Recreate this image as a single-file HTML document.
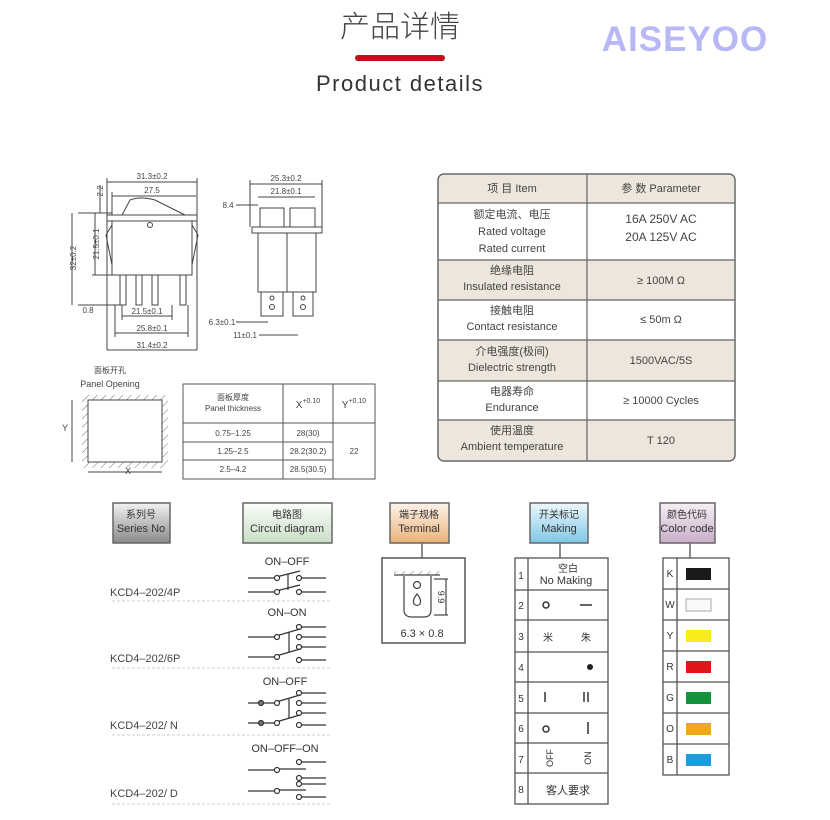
<!DOCTYPE html>
<html><head><meta charset="utf-8"><style>
html,body{margin:0;padding:0;background:#fff;}
svg{display:block;}
text{font-family:"Liberation Sans","Noto Sans CJK SC",sans-serif;}
</style></head><body>
<svg width="830" height="820" viewBox="0 0 830 820" xmlns="http://www.w3.org/2000/svg" fill="#333">
<defs>
<linearGradient id="gGray" x1="0" y1="0" x2="0" y2="1"><stop offset="0" stop-color="#f2f2f2"/><stop offset="1" stop-color="#8a8a8a"/></linearGradient>
<linearGradient id="gGreen" x1="0" y1="0" x2="0" y2="1"><stop offset="0" stop-color="#fbfdf9"/><stop offset="1" stop-color="#c9dfc6"/></linearGradient>
<linearGradient id="gOrange" x1="0" y1="0" x2="0" y2="1"><stop offset="0" stop-color="#fdf4ea"/><stop offset="1" stop-color="#eab27a"/></linearGradient>
<linearGradient id="gBlue" x1="0" y1="0" x2="0" y2="1"><stop offset="0" stop-color="#eef8fc"/><stop offset="1" stop-color="#7fc7e6"/></linearGradient>
<linearGradient id="gPurple" x1="0" y1="0" x2="0" y2="1"><stop offset="0" stop-color="#f6f0f6"/><stop offset="1" stop-color="#c9aec8"/></linearGradient>
<pattern id="hatch" width="6" height="6" patternUnits="userSpaceOnUse" patternTransform="rotate(45)"><line x1="0" y1="0" x2="0" y2="6" stroke="#777" stroke-width="1"/></pattern>
</defs>

<!-- Header -->
<text x="400" y="37" font-size="30" text-anchor="middle" fill="#444" style="font-family:'Noto Sans CJK SC',sans-serif;font-weight:300">产品详情</text>
<rect x="355" y="55" width="90" height="6" rx="3" fill="#c0101c"/>
<text x="400" y="91" font-size="22" text-anchor="middle" letter-spacing="1.5" fill="#333">Product details</text>
<text x="685" y="51" font-size="35" font-weight="bold" text-anchor="middle" style="fill:#b8b8f6" letter-spacing="1">AISEYOO</text>

<!-- Front view drawing -->
<g stroke="#444" stroke-width="1" fill="none">
<line x1="107" y1="182" x2="197" y2="182"/><line x1="107" y1="178" x2="107" y2="350"/><line x1="197" y1="178" x2="197" y2="350"/>
<line x1="112" y1="196" x2="196" y2="196"/><line x1="112" y1="192" x2="112" y2="215"/>
<path d="M122 215 L130 200 Q140 196 155 200 L185 215"/>
<rect x="107" y="215" width="90" height="6"/>
<path d="M112 221 L112 275 L192 275 L192 221"/>
<path d="M112 225 L106 235 L112 265 M192 225 L198 235 L192 265"/>
<circle cx="150" cy="225" r="2.5"/>
<rect x="120" y="275" width="6" height="30"/><rect x="136" y="275" width="6" height="30"/><rect x="152" y="275" width="6" height="30"/><rect x="180" y="275" width="6" height="30"/>
<line x1="78" y1="213" x2="112" y2="213"/><line x1="78" y1="305" x2="120" y2="305"/><line x1="72" y1="213" x2="72" y2="305"/>
<line x1="95" y1="213" x2="95" y2="275"/><line x1="92" y1="275" x2="112" y2="275"/>
<line x1="100" y1="185" x2="100" y2="213"/>
<line x1="122" y1="316" x2="172" y2="316"/><line x1="115" y1="333" x2="188" y2="333"/><line x1="107" y1="350" x2="197" y2="350"/>
<line x1="122" y1="305" x2="122" y2="320"/><line x1="172" y1="305" x2="172" y2="320"/><line x1="115" y1="305" x2="115" y2="337"/><line x1="188" y1="305" x2="188" y2="337"/>
</g>
<g font-size="8" fill="#444">
<text x="152" y="179" text-anchor="middle">31.3±0.2</text>
<text x="152" y="193" text-anchor="middle">27.5</text>
<text x="147" y="314" text-anchor="middle">21.5±0.1</text>
<text x="152" y="331" text-anchor="middle">25.8±0.1</text>
<text x="152" y="348" text-anchor="middle">31.4±0.2</text>
<text x="88" y="313" text-anchor="middle">0.8</text>
<text transform="translate(76,258) rotate(-90)" text-anchor="middle">32±0.2</text>
<text transform="translate(99,244) rotate(-90)" text-anchor="middle">21.5±0.1</text>
<text transform="translate(103,191) rotate(-90)" text-anchor="middle">2.2</text>
</g>

<!-- Side view drawing -->
<g stroke="#444" stroke-width="1" fill="none">
<line x1="250" y1="184" x2="322" y2="184"/><line x1="250" y1="180" x2="250" y2="227"/><line x1="322" y1="180" x2="322" y2="227"/>
<line x1="258" y1="197" x2="315" y2="197"/>
<rect x="260" y="208" width="24" height="19"/><rect x="290" y="208" width="25" height="19"/>
<rect x="252" y="227" width="70" height="6"/>
<rect x="258" y="233" width="58" height="59"/><line x1="287" y1="233" x2="287" y2="292"/>
<rect x="261" y="292" width="22" height="24"/><rect x="293" y="292" width="20" height="24"/>
<circle cx="272" cy="298" r="2"/><circle cx="272" cy="307" r="2.5"/><circle cx="303" cy="298" r="2"/><circle cx="303" cy="307" r="2.5"/>
<line x1="236" y1="205" x2="258" y2="205"/>
<line x1="236" y1="322" x2="268" y2="322"/><line x1="259" y1="335" x2="298" y2="335"/>
</g>
<g font-size="8" fill="#444">
<text x="286" y="181" text-anchor="middle">25.3±0.2</text>
<text x="286" y="194" text-anchor="middle">21.8±0.1</text>
<text x="228" y="208" text-anchor="middle">8.4</text>
<text x="222" y="325" text-anchor="middle">6.3±0.1</text>
<text x="245" y="338" text-anchor="middle">11±0.1</text>
</g>

<!-- Panel opening -->
<text x="110" y="373" font-size="8" text-anchor="middle" fill="#444">面板开孔</text>
<text x="110" y="387" font-size="9" text-anchor="middle" fill="#444">Panel Opening</text>
<rect x="82" y="395" width="86" height="73" fill="url(#hatch)"/>
<rect x="88" y="400" width="74" height="62" fill="#fff" stroke="#444"/>
<g stroke="#444"><line x1="72" y1="400" x2="72" y2="462"/><line x1="88" y1="472" x2="162" y2="472"/></g>
<text x="62" y="431" font-size="9" fill="#444">Y</text>
<text x="125" y="474" font-size="9" fill="#444">X</text>

<!-- Small panel table -->
<g stroke="#555" fill="none">
<rect x="183" y="384" width="192" height="95"/>
<line x1="283" y1="384" x2="283" y2="479"/><line x1="333" y1="384" x2="333" y2="479"/>
<line x1="183" y1="423" x2="375" y2="423"/><line x1="183" y1="442" x2="333" y2="442"/><line x1="183" y1="460" x2="333" y2="460"/>
</g>
<g font-size="8" fill="#444" text-anchor="middle">
<text x="233" y="400">面板厚度</text>
<text x="233" y="411">Panel thickness</text>
<text x="308" y="408" font-size="10">X<tspan font-size="7" dy="-5">+0.10</tspan></text>
<text x="354" y="408" font-size="10">Y<tspan font-size="7" dy="-5">+0.10</tspan></text>
<text x="233" y="436">0.75–1.25</text><text x="308" y="436">28(30)</text>
<text x="233" y="454">1.25–2.5</text><text x="308" y="454">28.2(30.2)</text>
<text x="233" y="472">2.5–4.2</text><text x="308" y="472">28.5(30.5)</text>
<text x="354" y="454">22</text>
</g>

<!-- Parameter table -->
<rect x="438" y="174" width="297" height="287" rx="6" fill="#fff" stroke="#666" stroke-width="1.5"/>
<g fill="#ece6dc">
<path d="M444 175 H729 Q734 175 734 180 V203 H439 V180 Q439 175 444 175Z"/>
<rect x="439" y="260" width="295" height="40"/>
<rect x="439" y="340" width="295" height="41"/>
<path d="M439 420 H734 V455 Q734 460 729 460 H444 Q439 460 439 455Z"/>
</g>
<g stroke="#666" stroke-width="1.2">
<line x1="587" y1="174" x2="587" y2="461"/>
<line x1="438" y1="203" x2="735" y2="203"/><line x1="438" y1="260" x2="735" y2="260"/><line x1="438" y1="300" x2="735" y2="300"/>
<line x1="438" y1="340" x2="735" y2="340"/><line x1="438" y1="381" x2="735" y2="381"/><line x1="438" y1="420" x2="735" y2="420"/>
</g>
<g font-size="11" fill="#444" text-anchor="middle">
<text x="512" y="192">项 目  Item</text><text x="661" y="192">参 数  Parameter</text>
<text x="512" y="218">额定电流、电压</text><text x="512" y="235">Rated voltage</text><text x="512" y="252">Rated current</text>
<text x="661" y="223" font-size="12">16A 250V AC</text><text x="661" y="241" font-size="12">20A 125V AC</text>
<text x="512" y="274">绝缘电阻</text><text x="512" y="290">Insulated resistance</text><text x="661" y="284">≥ 100M Ω</text>
<text x="512" y="314">接触电阻</text><text x="512" y="330">Contact resistance</text><text x="661" y="323">≤ 50m Ω</text>
<text x="512" y="355">介电强度(极间)</text><text x="512" y="371">Dielectric strength</text><text x="661" y="364">1500VAC/5S</text>
<text x="512" y="395">电器寿命</text><text x="512" y="411">Endurance</text><text x="661" y="404">≥ 10000 Cycles</text>
<text x="512" y="434">使用温度</text><text x="512" y="450">Ambient temperature</text><text x="661" y="444">T 120</text>
</g>

<!-- Bottom header boxes -->
<g stroke="#666" stroke-width="1.5">
<rect x="113" y="503" width="57" height="40" fill="url(#gGray)"/>
<rect x="243" y="503" width="89" height="40" fill="url(#gGreen)"/>
<rect x="390" y="503" width="59" height="40" fill="url(#gOrange)"/>
<rect x="530" y="503" width="58" height="40" fill="url(#gBlue)"/>
<rect x="660" y="503" width="55" height="40" fill="url(#gPurple)"/>
<line x1="422" y1="543" x2="422" y2="558"/><line x1="560" y1="543" x2="560" y2="558"/><line x1="690" y1="543" x2="690" y2="558"/>
</g>
<g font-size="10" text-anchor="middle" fill="#333">
<text x="141" y="518">系列号</text><text x="141" y="532" font-size="11">Series No</text>
<text x="287" y="518">电路图</text><text x="287" y="532" font-size="11">Circuit diagram</text>
<text x="419" y="518">端子规格</text><text x="419" y="532" font-size="11">Terminal</text>
<text x="559" y="518">开关标记</text><text x="559" y="532" font-size="11">Making</text>
<text x="687" y="518">颜色代码</text><text x="687" y="532" font-size="11">Color code</text>
</g>

<!-- Series & circuits -->
<g font-size="11" fill="#444">
<text x="110" y="596">KCD4–202/4P</text>
<text x="110" y="662">KCD4–202/6P</text>
<text x="110" y="729">KCD4–202/ N</text>
<text x="110" y="797">KCD4–202/ D</text>
</g>
<g font-size="11" fill="#333" text-anchor="middle">
<text x="287" y="565">ON–OFF</text><text x="287" y="616">ON–ON</text><text x="285" y="685">ON–OFF</text><text x="285" y="752">ON–OFF–ON</text>
</g>
<g stroke="#ccc" stroke-dasharray="3,2"><line x1="112" y1="601" x2="332" y2="601"/><line x1="112" y1="668" x2="332" y2="668"/><line x1="112" y1="735" x2="332" y2="735"/><line x1="112" y1="804" x2="332" y2="804"/></g>
<g stroke="#333" stroke-width="1.2" fill="#fff">
<line x1="248" y1="578" x2="274" y2="578"/><line x1="276" y1="577" x2="300" y2="571"/><line x1="302" y1="578" x2="326" y2="578"/>
<circle cx="277" cy="578" r="2.5"/><circle cx="299" cy="578" r="2.5"/><line x1="288" y1="574" x2="288" y2="590"/>
<line x1="248" y1="592" x2="274" y2="592"/><line x1="276" y1="591" x2="300" y2="585"/><line x1="302" y1="592" x2="326" y2="592"/>
<circle cx="277" cy="592" r="2.5"/><circle cx="299" cy="592" r="2.5"/>
<line x1="302" y1="627" x2="326" y2="627"/><circle cx="299" cy="627" r="2.5"/>
<line x1="248" y1="637" x2="274" y2="637"/><line x1="276" y1="636" x2="300" y2="629"/><line x1="302" y1="637" x2="326" y2="637"/><circle cx="277" cy="637" r="2.5"/><circle cx="299" cy="637" r="2.5"/>
<line x1="302" y1="647" x2="326" y2="647"/><circle cx="299" cy="647" r="2.5"/><line x1="289" y1="632" x2="289" y2="652"/>
<line x1="248" y1="657" x2="274" y2="657"/><line x1="276" y1="656" x2="300" y2="649"/><line x1="302" y1="660" x2="326" y2="660"/><circle cx="277" cy="657" r="2.5"/><circle cx="299" cy="660" r="2.5"/>
<line x1="302" y1="693" x2="326" y2="693"/><circle cx="299" cy="693" r="2.5"/>
<line x1="248" y1="703" x2="274" y2="703"/><line x1="276" y1="702" x2="300" y2="695"/><line x1="302" y1="703" x2="326" y2="703"/><circle cx="277" cy="703" r="2.5"/><circle cx="299" cy="703" r="2.5"/><circle cx="261" cy="703" r="2.5" fill="#777"/>
<line x1="302" y1="713" x2="326" y2="713"/><circle cx="299" cy="713" r="2.5"/><line x1="289" y1="698" x2="289" y2="718"/>
<line x1="248" y1="723" x2="274" y2="723"/><line x1="276" y1="722" x2="300" y2="715"/><line x1="302" y1="725" x2="326" y2="725"/><circle cx="277" cy="723" r="2.5"/><circle cx="299" cy="725" r="2.5"/><circle cx="261" cy="723" r="2.5" fill="#777"/>
<line x1="302" y1="762" x2="326" y2="762"/><circle cx="299" cy="762" r="2.5"/>
<line x1="248" y1="770" x2="274" y2="770"/><line x1="276" y1="769" x2="306" y2="769"/><line x1="302" y1="778" x2="326" y2="778"/><circle cx="277" cy="770" r="2.5"/><circle cx="299" cy="778" r="2.5"/>
<line x1="302" y1="784" x2="326" y2="784"/><circle cx="299" cy="784" r="2.5"/>
<line x1="248" y1="791" x2="274" y2="791"/><line x1="276" y1="790" x2="306" y2="790"/><line x1="302" y1="797" x2="326" y2="797"/><circle cx="277" cy="791" r="2.5"/><circle cx="299" cy="797" r="2.5"/>
</g>

<!-- Terminal -->
<rect x="382" y="558" width="83" height="85" fill="#fff" stroke="#555" stroke-width="1.5"/>
<rect x="394" y="571" width="46" height="4" fill="url(#hatch)"/>
<g stroke="#444" fill="none" stroke-width="1.2">
<line x1="394" y1="575" x2="440" y2="575"/>
<path d="M404 576 V610 Q404 617 412 617 H424 Q431 617 431 610 V576"/>
<circle cx="417" cy="585" r="3.5"/><path d="M417 594 Q412 600 414 604 Q417 607 420 604 Q422 600 417 594Z"/>
<line x1="434" y1="579" x2="448" y2="579"/><line x1="434" y1="615" x2="448" y2="615"/><line x1="446" y1="579" x2="446" y2="615"/>
</g>
<text transform="translate(438,597) rotate(90)" font-size="9" text-anchor="middle" fill="#333">9.9</text>
<text x="422" y="637" font-size="11" text-anchor="middle" fill="#333">6.3 × 0.8</text>

<!-- Making table -->
<g stroke="#555" fill="none" stroke-width="1.3">
<rect x="515" y="558" width="93" height="246"/><line x1="528" y1="558" x2="528" y2="804"/>
<line x1="515" y1="590" x2="608" y2="590"/><line x1="515" y1="620" x2="608" y2="620"/><line x1="515" y1="652" x2="608" y2="652"/>
<line x1="515" y1="682" x2="608" y2="682"/><line x1="515" y1="713" x2="608" y2="713"/><line x1="515" y1="743" x2="608" y2="743"/><line x1="515" y1="773" x2="608" y2="773"/>
</g>
<g font-size="10" fill="#333" text-anchor="middle">
<text x="521" y="579">1</text><text x="521" y="609">2</text><text x="521" y="640">3</text><text x="521" y="671">4</text>
<text x="521" y="702">5</text><text x="521" y="732">6</text><text x="521" y="763">7</text><text x="521" y="793">8</text>
<text x="568" y="572">空白</text><text x="566" y="584" font-size="11">No Making</text>
<text x="548" y="641">米</text><text x="586" y="641">朱</text>
<text x="568" y="794" font-size="11">客人要求</text>
<text transform="translate(553,758) rotate(-90)" font-size="9" text-anchor="middle">OFF</text>
<text transform="translate(591,758) rotate(-90)" font-size="9" text-anchor="middle">ON</text>
</g>
<g stroke="#333" stroke-width="1.5" fill="none">
<circle cx="546" cy="605" r="3"/><line x1="580" y1="605" x2="592" y2="605"/>
<line x1="545" y1="692" x2="545" y2="702"/><line x1="584" y1="692" x2="584" y2="702"/><line x1="588" y1="692" x2="588" y2="702"/>
<circle cx="546" cy="729" r="3"/><line x1="588" y1="722" x2="588" y2="734"/>
</g>
<circle cx="590" cy="667" r="3" fill="#222"/>

<!-- Color table -->
<g stroke="#555" fill="none" stroke-width="1.3">
<rect x="663" y="558" width="66" height="217"/><line x1="677" y1="558" x2="677" y2="775"/>
<line x1="663" y1="589" x2="729" y2="589"/><line x1="663" y1="620" x2="729" y2="620"/><line x1="663" y1="651" x2="729" y2="651"/>
<line x1="663" y1="682" x2="729" y2="682"/><line x1="663" y1="713" x2="729" y2="713"/><line x1="663" y1="744" x2="729" y2="744"/>
</g>
<g font-size="10" fill="#333" text-anchor="middle">
<text x="670" y="577">K</text><text x="670" y="608">W</text><text x="670" y="639">Y</text><text x="670" y="670">R</text>
<text x="670" y="701">G</text><text x="670" y="732">O</text><text x="670" y="763">B</text>
</g>
<rect x="686" y="568" width="25" height="12" fill="#1a1a1a"/>
<rect x="686" y="599" width="25" height="12" fill="#fafafa" stroke="#aaa"/>
<rect x="686" y="630" width="25" height="12" fill="#f8ec1a"/>
<rect x="686" y="661" width="25" height="12" fill="#e0161c"/>
<rect x="686" y="692" width="25" height="12" fill="#12933e"/>
<rect x="686" y="723" width="25" height="12" fill="#f0a818"/>
<rect x="686" y="754" width="25" height="12" fill="#1a9ee0"/>
</svg>
</body></html>
